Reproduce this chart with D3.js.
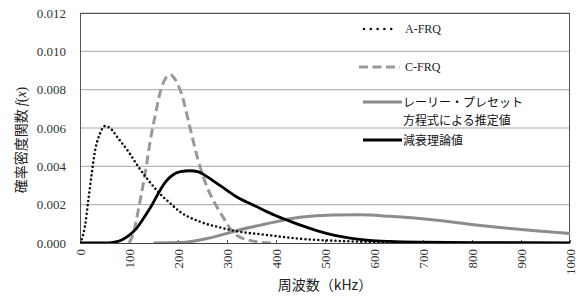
<!DOCTYPE html>
<html><head><meta charset="utf-8">
<script src="https://cdn.jsdelivr.net/npm/d3@7"></script>
<style>body{margin:0;background:#fff}svg{display:block}</style>
</head><body><svg id="c" width="577" height="302"></svg>
<script>
const xTicks = [0,100,200,300,400,500,600,700,800,900,1000];
const yTicks = [0,0.002,0.004,0.006,0.008,0.010,0.012];
const seriesNames = ["A-FRQ","C-FRQ","レーリー・プレセット\n方程式による推定値","減衰理論値"];
const aFrq = [[0,0],[5,0.0003],[10,0.00085],[17,0.00224],[24,0.00364],[31,0.00485],[41,0.00572],[51,0.0061],[61,0.006],[78,0.00546],[99,0.00476],[119,0.00398],[139,0.00329],[160,0.00265],[185,0.00205],[204,0.00163],[245,0.00111],[292,0.00077],[312,0.00065],[381,0.00042],[449,0.00022],[517,0.00012],[600,0.00005],[700,0.00002],[800,0.00001],[1000,0]];
const cFrq = [[100,0],[110,0.0006],[119,0.00172],[133,0.00364],[146,0.00572],[153,0.0066],[163,0.0078],[175,0.0086],[185,0.00877],[195,0.0085],[207,0.0078],[224,0.00607],[241,0.00433],[259,0.00294],[279,0.0019],[292,0.00135],[305,0.0008],[320,0.0004],[340,0.00018],[360,0.00007],[390,0]];
const rayleigh = [[150,0],[204,0.00002],[245,0.00016],[300,0.0005],[312,0.00059],[381,0.001],[449,0.00134],[517,0.00146],[571,0.00147],[633,0.00139],[724,0.0012],[827,0.00089],[929,0.00064],[1000,0.0005]];
const theory = [[0,0],[58,0],[70,0.00004],[85,0.00016],[100,0.0004],[115,0.00075],[130,0.0013],[145,0.0019],[160,0.0026],[175,0.0032],[190,0.00356],[205,0.00372],[224,0.00377],[240,0.00372],[260,0.00345],[280,0.0031],[300,0.00275],[320,0.0024],[340,0.00214],[360,0.0019],[380,0.00165],[400,0.00142],[422,0.0012],[450,0.00093],[483,0.00065],[520,0.0004],[551,0.00026],[590,0.00014],[633,0.00008],[700,0.00004],[800,0.00002],[1000,0.00001]];

const svg = d3.select("#c");
const L=80,R=570,T=13,B=243;
const x = d3.scaleLinear().domain([0,1000]).range([L,R]);
const y = d3.scaleLinear().domain([0,0.012]).range([B,T]);
const serif = "'Liberation Serif','Times New Roman',serif";
const jp = "'Noto Sans CJK JP',sans-serif";

// gridlines
svg.append("g").selectAll("line").data(yTicks.slice(1)).join("line")
  .attr("x1",L).attr("x2",R).attr("y1",d=>y(d)).attr("y2",d=>y(d))
  .attr("stroke","#a6a6a6").attr("stroke-width",1);

// y axis
const ya = svg.append("g").attr("transform",`translate(${L},0)`)
  .call(d3.axisLeft(y).tickValues(yTicks).tickFormat(d3.format(".3f")).tickSize(0).tickPadding(14));
ya.select(".domain").remove();
ya.attr("font-family",serif).attr("font-size",13);
ya.selectAll("text").attr("fill","#333");

// x axis
const xa = svg.append("g").attr("transform",`translate(0,${B})`)
  .call(d3.axisBottom(x).tickValues(xTicks).tickFormat(d3.format("d")).tickSize(-3).tickSizeOuter(0));
xa.select(".domain").remove();
xa.attr("font-family",serif).attr("font-size",13);
xa.selectAll("line").attr("stroke","#555");
xa.selectAll("text").attr("fill","#333")
  .attr("transform","rotate(-90)").attr("text-anchor","end").attr("x",-6).attr("y",0).attr("dy","0.35em");

// frame
svg.append("rect").attr("x",L+0.5).attr("y",T+0.5).attr("width",R-L-1).attr("height",B-T)
  .attr("fill","none").attr("stroke","#555").attr("stroke-width",1);
svg.append("line").attr("x1",L).attr("x2",R).attr("y1",B+0.5).attr("y2",B+0.5).attr("stroke","#444");

const line = d3.line().x(d=>x(d[0])).y(d=>y(d[1])).curve(d3.curveMonotoneX);
svg.append("clipPath").attr("id","pc").append("rect").attr("x",L).attr("y",T-5).attr("width",R-L).attr("height",B-T+5);
const g = svg.append("g").attr("clip-path","url(#pc)");
g.append("path").datum(rayleigh).attr("d",line).attr("fill","none").attr("stroke","#8c8c8c").attr("stroke-width",3);
g.append("path").datum(cFrq).attr("d",line).attr("fill","none").attr("stroke","#999").attr("stroke-width",3).attr("stroke-dasharray","9,4.5");
g.append("path").datum(aFrq).attr("d",line).attr("fill","none").attr("stroke","#111").attr("stroke-width",2.6).attr("stroke-linecap","round").attr("stroke-dasharray","0,4.3");
g.append("path").datum(theory).attr("d",line).attr("fill","none").attr("stroke","#000").attr("stroke-width",2.8);

// legend
const lg = svg.append("g");
lg.append("line").attr("x1",364).attr("x2",398).attr("y1",29).attr("y2",29).attr("stroke","#111").attr("stroke-width",2.6).attr("stroke-linecap","round").attr("stroke-dasharray","0,6.8");
lg.append("text").attr("x",405).attr("y",33).text(seriesNames[0]).attr("font-family",serif).attr("font-size",12).attr("fill","#222");
lg.append("line").attr("x1",359).attr("x2",400).attr("y1",67).attr("y2",67).attr("stroke","#999").attr("stroke-width",3).attr("stroke-dasharray","9,4.5");
lg.append("text").attr("x",405).attr("y",71).text(seriesNames[1]).attr("font-family",serif).attr("font-size",12).attr("fill","#222");
lg.append("line").attr("x1",363).attr("x2",402).attr("y1",102).attr("y2",102).attr("stroke","#8c8c8c").attr("stroke-width",3);
const rl = seriesNames[2].split("\n");
lg.append("text").attr("x",403).attr("y",106.5).text(rl[0]).attr("font-family",jp).attr("font-size",12).attr("fill","#111");
lg.append("text").attr("x",403).attr("y",124.5).text(rl[1]).attr("font-family",jp).attr("font-size",12).attr("fill","#111");
lg.append("line").attr("x1",363).attr("x2",402).attr("y1",140).attr("y2",140).attr("stroke","#000").attr("stroke-width",2.8);
lg.append("text").attr("x",403).attr("y",144.5).text(seriesNames[3]).attr("font-family",jp).attr("font-size",12).attr("fill","#111");

// axis titles
const yt = svg.append("text").attr("transform","translate(26,140) rotate(-90)").attr("text-anchor","middle")
  .attr("font-family",jp).attr("font-size",14).attr("fill","#222");
yt.append("tspan").text("確率密度関数 ");
yt.append("tspan").text("f").attr("font-family",serif).attr("font-style","italic");
yt.append("tspan").text("(").attr("font-family",serif);
yt.append("tspan").text("x").attr("font-family",serif).attr("font-style","italic");
yt.append("tspan").text(")").attr("font-family",serif);
svg.append("text").attr("x",325).attr("y",290).attr("text-anchor","middle").attr("font-family",jp).attr("font-size",14).attr("fill","#222")
  .text("周波数（kHz）");
</script></body></html>
